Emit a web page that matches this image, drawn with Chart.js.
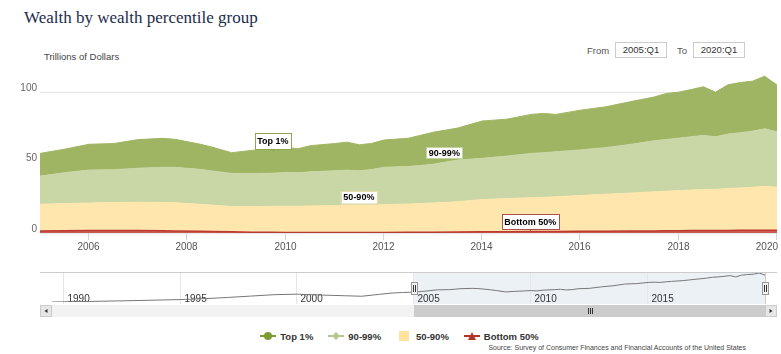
<!DOCTYPE html>
<html>
<head>
<meta charset="utf-8">
<script src="https://cdn.jsdelivr.net/npm/chart.js@4.4.1/dist/chart.umd.min.js"></script>
<style>
    html, body { margin: 0; padding: 0; background: #fff; }
    body { width: 781px; height: 354px; position: relative; overflow: hidden; font-family: "Liberation Sans", Arial, sans-serif; }
    #title { position: absolute; left: 24px; top: 8px; font-family: "Liberation Serif", Georgia, serif; font-size: 17px; color: #1b2c4b; white-space: nowrap; }
    #unit { position: absolute; left: 44px; top: 51px; font-size: 9.5px; color: #444; }
    .lbl { position: absolute; top: 45px; font-size: 9.5px; color: #555; }
    .box { position: absolute; top: 42px; width: 50px; height: 14px; line-height: 14px; border: 1px solid #ccc; text-align: center; font-size: 9.5px; color: #333; }
    #mainChart { position: absolute; left: 0; top: 0; }
    #navChart { position: absolute; left: 0; top: 262px; }
    #legend { position: absolute; left: 9px; width: 781px; top: 330px; display: flex; justify-content: center; gap: 15px; font-weight: bold; font-size: 9.5px; color: #333; }
    #legend div { display: flex; align-items: center; }
    #legend svg { margin-right: 4px; }
    #source { position: absolute; right: 35px; top: 344px; font-size: 7px; color: #444; white-space: nowrap; }
</style>
</head>
<body>
<div id="title">Wealth by wealth percentile group</div>
<div id="unit">Trillions of Dollars</div>
<div class="lbl" style="left:587px">From</div>
<div class="box" id="fromBox" style="left:615px"></div>
<div class="lbl" style="left:677px">To</div>
<div class="box" id="toBox" style="left:693px"></div>
<canvas id="mainChart" width="781" height="262"></canvas>
<canvas id="navChart" width="781" height="60"></canvas>
<div id="legend"></div>
<div id="source">Source: Survey of Consumer Finances and Financial Accounts of the United States</div>
<script>
// selected range (years as decimals) and its labels
var rangeFrom = 2005.0;
var rangeTo = 2020.0;
var rangeFromLabel = "2005:Q1";
var rangeToLabel = "2020:Q1";

var groups = ["Top 1%", "90-99%", "50-90%", "Bottom 50%"];

var years = [2005.0, 2005.5, 2006.0, 2006.5, 2007.0, 2007.5, 2007.75, 2008.25, 2008.5, 2008.9,
    2009.3, 2009.7, 2010.0, 2010.25, 2010.5, 2011.0, 2011.25, 2011.5, 2011.75, 2012.0,
    2012.5, 2013.0, 2013.5, 2014.0, 2014.5, 2015.0, 2015.25, 2015.5, 2016.0, 2016.5,
    2017.0, 2017.5, 2017.75, 2018.0, 2018.25, 2018.5, 2018.75, 2019.0, 2019.25, 2019.5,
    2019.75, 2020.0];

var top1 = [16.1, 16.7, 18.3, 18.6, 20.3, 20.6, 19.9, 17.9, 17.0, 14.7,
    16.4, 17.4, 17.8, 17.0, 18.6, 19.3, 19.9, 18.4, 18.6, 19.4,
    20.1, 22.7, 22.7, 26.5, 26.2, 27.7, 27.9, 26.5, 28.2, 28.9,
    30.3, 31.0, 32.7, 32.7, 33.5, 34.5, 31.7, 35.0, 35.6, 35.5,
    37.3, 33.2];

var p90to99 = [20.0, 21.9, 23.4, 23.3, 24.2, 24.9, 25.1, 24.8, 24.2, 23.5,
    23.5, 23.5, 23.9, 23.8, 24.2, 24.8, 25.2, 24.7, 25.2, 26.5,
    26.6, 27.5, 29.6, 29.3, 30.1, 31.5, 31.7, 32.0, 32.4, 33.1,
    34.5, 36.3, 36.7, 37.2, 37.8, 38.5, 37.3, 38.6, 39.2, 39.8,
    40.9, 39.4];

var p50to90 = [18.9, 19.3, 19.6, 19.9, 20.1, 20.1, 20.0, 19.1, 18.7, 18.0,
    18.1, 18.4, 18.7, 18.6, 18.8, 19.1, 19.1, 19.2, 19.5, 19.7,
    20.1, 20.7, 21.5, 22.9, 23.6, 24.0, 24.3, 24.6, 25.4, 26.2,
    26.9, 27.7, 28.1, 28.5, 28.8, 29.1, 29.3, 29.8, 30.1, 30.6,
    31.1, 30.5];

var bottom50 = [1.5, 1.6, 1.7, 1.7, 1.7, 1.6, 1.5, 1.3, 1.1, 0.8,
    0.6, 0.5, 0.4, 0.4, 0.4, 0.3, 0.3, 0.3, 0.3, 0.4,
    0.5, 0.6, 0.7, 0.8, 0.9, 1.0, 1.0, 1.1, 1.2, 1.3,
    1.4, 1.5, 1.6, 1.6, 1.7, 1.7, 1.7, 1.8, 1.9, 1.9,
    2.0, 1.9];

// total wealth before the selected range (navigator only)
var historyYears = [1989.5, 1991.0, 1993.0, 1995.0, 1996.0, 1997.0, 1998.0, 1999.0, 2000.0, 2001.0,
    2002.0, 2002.75, 2003.5, 2004.0, 2004.5];
var historyTotals = [28.0, 29.5, 32.0, 35.0, 37.5, 41.0, 45.0, 49.0, 50.5, 48.0,
    46.0, 44.5, 50.0, 53.5, 55.3];

var yTicks = [0, 50, 100];
var xTicks = [2006, 2008, 2010, 2012, 2014, 2016, 2018, 2020];
var navTicks = [1990, 1995, 2000, 2005, 2010, 2015];

var seriesValues = [top1, p90to99, p50to90, bottom50];
var fillColors = ["#a0b563", "#c9d7a7", "#fee6ad", "#cf5c52"];
var lineColors = ["#a0b563", "#c9d7a7", "#fee6ad", "#bd3a30"];
var legendColors = ["#7e9c33", "#b5c88d", "#fde39c", "#b2352b"];
var legendSymbols = ["circle", "diamond", "square", "triangle"];

// in-chart series labels, anchored in data units
var seriesLabels = [
    { text: "Top 1%", year: 2009.74, value: 57.5, border: "#8fa84f", height: 16, stem: 3 },
    { text: "90-99%", year: 2013.23, value: 56.9, border: "#c2d29c", height: 11, stem: 0 },
    { text: "50-90%", year: 2011.49, value: 25.4, border: "#e6dca8", height: 12.5, stem: 0 },
    { text: "Bottom 50%", year: 2014.98, value: 0.5, border: "#a8534d", height: 15, stem: 3 },
];

document.getElementById("fromBox").textContent = rangeFromLabel;
document.getElementById("toBox").textContent = rangeToLabel;

function toPoints(xs, values) {
    return values.map(function(v, i) { return { x: xs[i], y: v }; });
}

// stack from the bottom up: Bottom 50% first
var mainDatasets = [];
for (let i = groups.length - 1; i >= 0; i--) {
    mainDatasets.push({
        label: groups[i],
        data: toPoints(years, seriesValues[i]),
        backgroundColor: fillColors[i],
        borderColor: lineColors[i],
        borderWidth: i == 3 ? 1.5 : 1,
        pointRadius: 0,
        tension: 0,
        fill: mainDatasets.length == 0 ? "origin" : "-1",
    });
}

var FONT = '"Liberation Sans", Arial, sans-serif';

var mainLabelsPlugin = {
    id: "mainLabels",
    afterDatasetsDraw: function(chart) {
        const ctx = chart.ctx;
        const x = chart.scales.x, y = chart.scales.y;
        ctx.save();
        // y labels
        ctx.font = "10px " + FONT;
        ctx.fillStyle = "#666";
        ctx.textAlign = "right";
        ctx.textBaseline = "middle";
        yTicks.forEach(function(v) {
            ctx.fillText(String(v), 37, y.getPixelForValue(v) - 4);
        });
        // x tick marks and labels
        ctx.strokeStyle = "#ccd6eb";
        ctx.lineWidth = 1;
        ctx.textAlign = "center";
        ctx.fillStyle = "#555";
        xTicks.forEach(function(v) {
            let px = Math.round(x.getPixelForValue(v)) - 0.5;
            ctx.beginPath();
            ctx.moveTo(px, chart.chartArea.bottom);
            ctx.lineTo(px, chart.chartArea.bottom + 7);
            ctx.stroke();
            let label = String(v);
            let w = ctx.measureText(label).width;
            let cx = Math.min(px, chart.width - 3 - w / 2);
            ctx.fillText(label, cx, chart.chartArea.bottom + 14);
        });
        // series labels
        ctx.font = "bold 9px " + FONT;
        seriesLabels.forEach(function(l) {
            let px = x.getPixelForValue(l.year);
            let py = y.getPixelForValue(l.value);
            let w = ctx.measureText(l.text).width + 5;
            let top = l.stem ? py - l.stem - l.height : py - l.height / 2;
            let left = px - w / 2;
            ctx.fillStyle = "#fff";
            ctx.fillRect(left, top, w, l.height);
            ctx.strokeStyle = l.border;
            ctx.lineWidth = 1;
            ctx.strokeRect(Math.round(left) + 0.5, Math.round(top) + 0.5, Math.round(w), Math.round(l.height));
            if (l.stem) {
                ctx.beginPath();
                ctx.moveTo(Math.round(px) + 0.5, Math.round(top + l.height) + 0.5);
                ctx.lineTo(Math.round(px) + 0.5, py);
                ctx.stroke();
            }
            ctx.fillStyle = "#000";
            ctx.fillText(l.text, px, top + l.height / 2 + 0.5);
        });
        ctx.restore();
    },
};

var mainChart = new Chart(document.getElementById("mainChart"), {
    type: "line",
    data: { datasets: mainDatasets },
    options: {
        responsive: false,
        animation: false,
        layout: { padding: { left: 40, right: 4, top: 71, bottom: 29 } },
        plugins: { legend: { display: false }, tooltip: { enabled: false } },
        scales: {
            x: {
                type: "linear",
                min: rangeFrom,
                max: rangeTo,
                grid: { display: false, drawTicks: false },
                border: { display: false },
                ticks: { display: false },
            },
            y: {
                stacked: true,
                min: 0,
                max: 115,
                afterBuildTicks: function(axis) {
                    axis.ticks = yTicks.map(function(v) { return { value: v }; });
                },
                grid: { color: "#e6e6e6", drawTicks: false },
                border: { display: false },
                ticks: { display: false },
            },
        },
    },
    plugins: [mainLabelsPlugin],
});

// navigator: history plus the stacked totals of the selected range
var totals = years.map(function(yr, i) {
    return top1[i] + p90to99[i] + p50to90[i] + bottom50[i];
});
var navYears = historyYears.concat(years);
var navTotals = historyTotals.concat(totals);

var navigatorPlugin = {
    id: "navigatorDecor",
    beforeDatasetsDraw: function(chart) {
        const ctx = chart.ctx;
        const x = chart.scales.x;
        const x0 = x.getPixelForValue(rangeFrom), x1 = x.getPixelForValue(rangeTo);
        ctx.save();
        ctx.fillStyle = "rgba(220,230,238,0.55)";
        ctx.fillRect(x0, 10, x1 - x0, 32);
        ctx.strokeStyle = "#e6e6e6";
        ctx.lineWidth = 1;
        ctx.font = "10px " + FONT;
        ctx.fillStyle = "#333";
        ctx.textAlign = "left";
        ctx.textBaseline = "alphabetic";
        navTicks.forEach(function(v) {
            let px = Math.round(x.getPixelForValue(v)) - 0.5;
            ctx.beginPath();
            ctx.moveTo(px, 10);
            ctx.lineTo(px, 42);
            ctx.stroke();
            ctx.fillText(String(v), px + 4, 40);
        });
        ctx.restore();
    },
    afterDatasetsDraw: function(chart) {
        const ctx = chart.ctx;
        const x = chart.scales.x;
        const x0 = Math.round(x.getPixelForValue(rangeFrom)), x1 = Math.round(x.getPixelForValue(rangeTo));
        ctx.save();
        // outline
        ctx.strokeStyle = "#cccccc";
        ctx.lineWidth = 1;
        ctx.beginPath();
        ctx.moveTo(40, 10.5);
        ctx.lineTo(777, 10.5);
        ctx.moveTo(x1 + 0.5, 10.5);
        ctx.lineTo(x1 + 0.5, 42);
        ctx.stroke();
        // scrollbar track, thumb and buttons
        ctx.fillStyle = "#f2f2f2";
        ctx.fillRect(40, 43, 737, 12);
        ctx.fillStyle = "#cccccc";
        ctx.fillRect(x0, 43, x1 - x0, 12);
        ctx.strokeStyle = "#333";
        let mid = Math.round((x0 + x1) / 2);
        ctx.beginPath();
        for (let k = -2; k <= 2; k += 2) {
            ctx.moveTo(mid + k + 0.5, 46);
            ctx.lineTo(mid + k + 0.5, 52);
        }
        ctx.stroke();
        [[40, -1], [765, 1]].forEach(function(b) {
            ctx.fillStyle = "#e6e6e6";
            ctx.fillRect(b[0], 43, 12, 12);
            ctx.strokeStyle = "#cccccc";
            ctx.strokeRect(b[0] + 0.5, 43.5, 11, 11);
            ctx.fillStyle = "#333";
            ctx.beginPath();
            let cx = b[0] + 6;
            ctx.moveTo(cx + b[1] * 1.5, 49);
            ctx.lineTo(cx - b[1] * 1.5, 47);
            ctx.lineTo(cx - b[1] * 1.5, 51);
            ctx.closePath();
            ctx.fill();
        });
        // handles
        [x0, x1].forEach(function(hx) {
            ctx.fillStyle = "#f2f2f2";
            ctx.fillRect(hx - 3, 20, 7, 13);
            ctx.strokeStyle = "#999";
            ctx.strokeRect(hx - 3 + 0.5, 20.5, 6, 12);
            ctx.strokeStyle = "#333";
            ctx.beginPath();
            ctx.moveTo(hx - 0.5, 23);
            ctx.lineTo(hx - 0.5, 30);
            ctx.moveTo(hx + 1.5, 23);
            ctx.lineTo(hx + 1.5, 30);
            ctx.stroke();
        });
        ctx.restore();
    },
};

var navChart = new Chart(document.getElementById("navChart"), {
    type: "line",
    data: {
        datasets: [{
            label: "Total",
            data: toPoints(navYears, navTotals),
            borderColor: "#777",
            borderWidth: 1,
            pointRadius: 0,
            tension: 0,
            fill: false,
        }],
    },
    options: {
        responsive: false,
        animation: false,
        layout: { padding: { left: 52, right: 16, top: 11, bottom: 20 } },
        plugins: { legend: { display: false }, tooltip: { enabled: false } },
        scales: {
            x: {
                type: "linear",
                min: navYears[0],
                max: navYears[navYears.length - 1],
                grid: { display: false, drawTicks: false },
                border: { display: false },
                ticks: { display: false },
            },
            y: {
                min: Math.min.apply(null, navTotals),
                max: Math.max.apply(null, navTotals),
                grid: { display: false, drawTicks: false },
                border: { display: false },
                ticks: { display: false },
            },
        },
    },
    plugins: [navigatorPlugin],
});

// legend
var legendEl = document.getElementById("legend");
groups.forEach(function(name, i) {
    let c = legendColors[i];
    let sym = "";
    if (legendSymbols[i] == "circle") sym = '<circle cx="8" cy="6" r="4" fill="' + c + '"/>';
    if (legendSymbols[i] == "diamond") sym = '<path d="M8 2 L12 6 L8 10 L4 6 Z" fill="' + c + '"/>';
    if (legendSymbols[i] == "square") sym = '<rect x="3" y="1" width="10" height="10" fill="' + c + '"/>';
    if (legendSymbols[i] == "triangle") sym = '<path d="M8 2 L12 10 L4 10 Z" fill="' + c + '"/>';
    let line = legendSymbols[i] == "square" ? "" : '<line x1="0" y1="6" x2="16" y2="6" stroke="' + c + '" stroke-width="2"/>';
    let item = document.createElement("div");
    item.innerHTML = '<svg width="16" height="12">' + line + sym + '</svg><span>' + name + '</span>';
    legendEl.appendChild(item);
});
</script>
</body>
</html>
